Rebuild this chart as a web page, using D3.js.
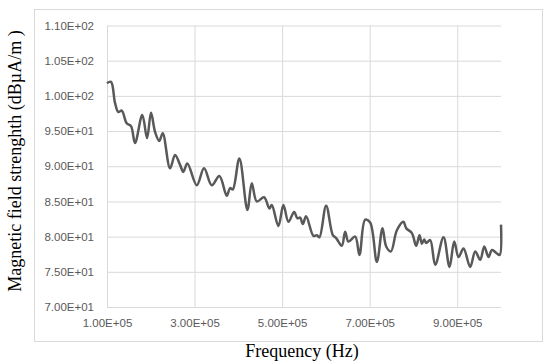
<!DOCTYPE html>
<html>
<head>
<meta charset="utf-8">
<script src="https://cdn.jsdelivr.net/npm/d3@7"></script>
<style>
  body { margin: 0; background: #fff; }
  .tick text { font-family: "Liberation Sans", Arial, sans-serif; font-size: 11.5px; fill: #595959; }
  .tick line { stroke: #d9d9d9; }
  .title { font-family: "Liberation Serif", "Times New Roman", serif; font-size: 18px; fill: #000; }
</style>
</head>
<body>
<div id="chart"></div>
<script>
// (frequency in Hz, field in dBuA/m)
var freqs = [100000, 109143, 118286, 125829, 133600, 145029, 154857, 164000, 180686, 191429,
  200571, 209714, 219543, 227314, 244000, 255429, 266857, 274400, 283543, 305029,
  321714, 339314, 356686, 373600, 381143, 387314, 402400, 420686, 430743, 442171,
  458857, 470971, 476457, 491543, 502971, 514400, 527429, 534971, 541143, 547314,
  554857, 571543, 579314, 585257, 600571, 615886, 623429, 636457, 644000, 651543,
  666857, 676686, 689714, 701143, 716457, 729257, 737714, 748457, 762171, 777257,
  783429, 796457, 806286, 813829, 819314, 824571, 829143, 838286, 849714, 868686,
  882400, 893143, 902971, 914400, 929714, 941143, 952571, 961714, 971543, 979314,
  990743, 997000, 1000000];
var values = [101.8, 102.0, 99.0, 97.7, 97.9, 96.1, 95.7, 93.3, 97.3, 94.0,
  97.6, 94.9, 93.6, 94.7, 89.7, 91.6, 90.2, 89.2, 90.4, 87.3,
  89.7, 87.3, 88.6, 85.8, 86.9, 86.7, 91.1, 83.8, 87.6, 85.0,
  85.6, 84.0, 84.5, 81.5, 84.5, 82.1, 83.5, 82.6, 82.7, 81.8,
  82.9, 80.1, 80.2, 79.9, 84.4, 80.2, 79.8, 78.7, 80.7, 79.3,
  80.0, 77.4, 82.4, 82.0, 76.4, 81.2, 78.6, 77.9, 80.9, 82.1,
  81.2, 80.5, 78.7, 80.2, 79.0, 79.6, 79.1, 79.5, 76.0, 79.9,
  75.7, 79.3, 77.1, 78.3, 75.7, 77.9, 76.7, 78.6, 77.1, 78.1,
  77.6, 77.4, 81.7];
var xTicks = [100000, 300000, 500000, 700000, 900000];
var yTicks = [70, 75, 80, 85, 90, 95, 100, 105, 110];

var width = 550, height = 364;
var plot = { left: 107, right: 501, top: 25.5, bottom: 307 };

function sci(v) {
  var e = Math.floor(Math.log10(Math.abs(v)));
  var m = v / Math.pow(10, e);
  return m.toFixed(2) + "E" + (e < 0 ? "-" : "+") + String(Math.abs(e)).padStart(2, "0");
}

var svg = d3.select("#chart").append("svg")
  .attr("width", width)
  .attr("height", height);

// chart area border
svg.append("rect")
  .attr("x", 34.5).attr("y", 9.5)
  .attr("width", 508).attr("height", 332)
  .attr("fill", "none")
  .attr("stroke", "#d9d9d9");

var x = d3.scaleLinear().domain([100000, 1000000]).range([plot.left, plot.right]);
var y = d3.scaleLinear().domain([70, 110]).range([plot.bottom, plot.top]);

var gy = svg.append("g")
  .attr("transform", "translate(" + plot.left + ",0)")
  .call(d3.axisLeft(y)
    .tickValues(yTicks)
    .tickSize(-(plot.right - plot.left))
    .tickPadding(13)
    .tickFormat(sci));
gy.select(".domain").remove();

var gx = svg.append("g")
  .attr("transform", "translate(0," + plot.bottom + ")")
  .call(d3.axisBottom(x)
    .tickValues(xTicks)
    .tickSize(-(plot.bottom - plot.top))
    .tickPadding(12)
    .tickFormat(sci));
gx.select(".domain").remove();

var pts = freqs.map(function(f, i) { return [f, values[i]]; });

var line = d3.line()
  .x(function(d) { return x(d[0]); })
  .y(function(d) { return y(d[1]); })
  .curve(d3.curveCatmullRom.alpha(0.5));

svg.append("path")
  .datum(pts)
  .attr("d", line)
  .attr("fill", "none")
  .attr("stroke", "#595959")
  .attr("stroke-width", 2.5)
  .attr("stroke-linejoin", "round");

svg.append("text")
  .attr("class", "title")
  .attr("transform", "translate(21,161) rotate(-90)")
  .attr("text-anchor", "middle")
  .text("Magnetic field strenghth (dBµA/m )");

svg.append("text")
  .attr("class", "title")
  .attr("x", 302)
  .attr("y", 357)
  .attr("text-anchor", "middle")
  .text("Frequency (Hz)");
</script>
</body>
</html>
